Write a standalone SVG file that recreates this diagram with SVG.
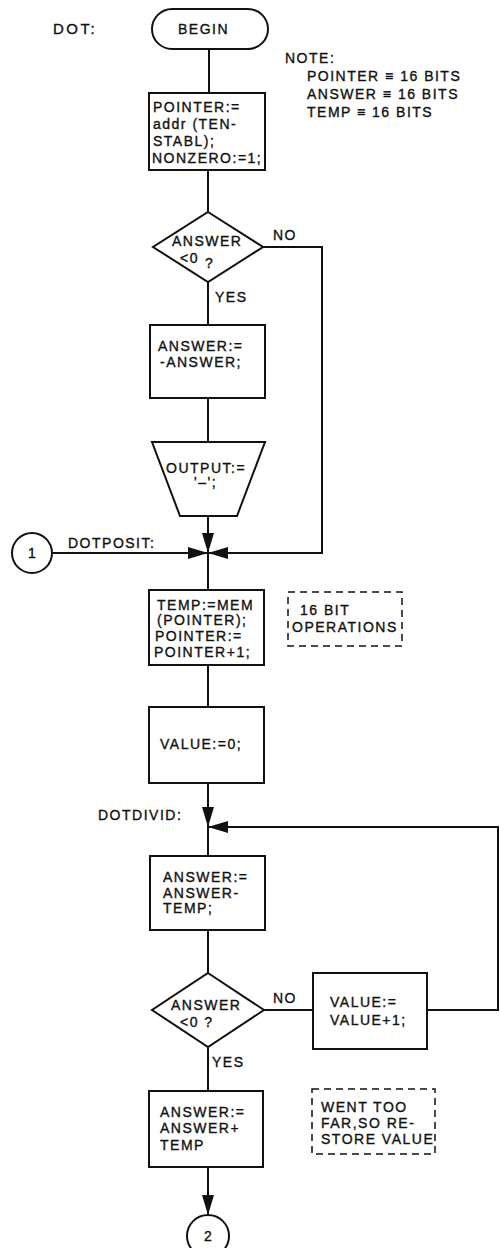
<svg xmlns="http://www.w3.org/2000/svg" width="500" height="1248" viewBox="0 0 500 1248">
<style>
text{font-family:"Liberation Sans",Arial,sans-serif;font-size:14px;letter-spacing:1.5px;fill:#111;stroke:#111;stroke-width:0.35}
.s{fill:#fff;stroke:#111;stroke-width:2}
.d{fill:none;stroke:#111;stroke-width:1.5;stroke-dasharray:7,5}
.c{fill:none;stroke:#111;stroke-width:2}
.m{text-anchor:middle;letter-spacing:0}
</style>
<defs>
<marker id="ah" viewBox="0 0 20 12" refX="20" refY="6" markerWidth="20" markerHeight="12" markerUnits="userSpaceOnUse" orient="auto">
<path d="M0,0 L20,6 L0,12 Z" fill="#111"/>
</marker>
</defs>
<rect width="500" height="1248" fill="#fff"/>
<g id="connectors">
<path class="c" d="M209,49 V93"/>
<path class="c" d="M208,170 V212"/>
<path class="c" d="M208,282 V325"/>
<path class="c" d="M208,398 V442"/>
<path class="c" d="M208,516 V553" marker-end="url(#ah)"/>
<path class="c" d="M263,247 H322 V553 H208" marker-end="url(#ah)"/>
<path class="c" d="M52,553 H208" marker-end="url(#ah)"/>
<path class="c" d="M208,553 V590"/>
<path class="c" d="M208,665 V707"/>
<path class="c" d="M208,783 V827" marker-end="url(#ah)"/>
<path class="c" d="M427,1010 H498 V827 H208" marker-end="url(#ah)"/>
<path class="c" d="M208,827 V856"/>
<path class="c" d="M208,930 V973"/>
<path class="c" d="M264,1010 H313"/>
<path class="c" d="M208,1047 V1091"/>
<path class="c" d="M208,1167 V1215" marker-end="url(#ah)"/>
<text x="273" y="240">NO</text>
<text x="215" y="302">YES</text>
<text x="68" y="548">DOTPOSIT:</text>
<text x="98" y="820">DOTDIVID:</text>
<text x="273" y="1003">NO</text>
<text x="212" y="1067">YES</text>
</g>
<g id="label-dot"><text x="53" y="34" style="font-size:15px;letter-spacing:2.5px">DOT:</text></g>
<g id="note">
<text x="285" y="63">NOTE:</text>
<text x="307" y="81">POINTER ≡ 16 BITS</text>
<text x="307" y="99">ANSWER ≡ 16 BITS</text>
<text x="307" y="117">TEMP ≡ 16 BITS</text>
</g>
<g id="begin">
<rect class="s" x="152" y="9" width="116" height="40" rx="20"/>
<text x="178" y="34">BEGIN</text>
</g>
<g id="init">
<rect class="s" x="149" y="93" width="116" height="77"/>
<text x="153" y="112">POINTER:=</text>
<text x="153" y="129">addr (TEN-</text>
<text x="153" y="146">STABL);</text>
<text x="152" y="163">NONZERO:=1;</text>
</g>
<g id="dec1">
<polygon class="s" points="208,212 263,247 208,282 153,247"/>
<text x="172" y="246">ANSWER</text>
<text x="180" y="263">&lt;0</text>
<text x="205" y="268">?</text>
</g>
<g id="negate">
<rect class="s" x="150" y="325" width="115" height="73"/>
<text x="158" y="351">ANSWER:=</text>
<text x="160" y="367">-ANSWER;</text>
</g>
<g id="output">
<polygon class="s" points="152,442 265,442 237,516 180,516"/>
<text x="166" y="473">OUTPUT:=</text>
<text x="194" y="487">'–';</text>
</g>
<g id="conn1">
<circle class="s" cx="32" cy="553" r="20"/>
<text class="m" x="32" y="558">1</text>
</g>
<g id="temp">
<rect class="s" x="149" y="590" width="115" height="75"/>
<text x="157" y="610">TEMP:=MEM</text>
<text x="157" y="625">(POINTER);</text>
<text x="155" y="641">POINTER:=</text>
<text x="154" y="657">POINTER+1;</text>
</g>
<g id="note16">
<rect class="d" x="288" y="592" width="114" height="54"/>
<text x="300" y="615">16 BIT</text>
<text x="292" y="632">OPERATIONS</text>
</g>
<g id="value0">
<rect class="s" x="149" y="707" width="115" height="76"/>
<text x="160" y="749">VALUE:=0;</text>
</g>
<g id="sub">
<rect class="s" x="150" y="856" width="115" height="74"/>
<text x="163" y="882">ANSWER:=</text>
<text x="163" y="898">ANSWER-</text>
<text x="163" y="913">TEMP;</text>
</g>
<g id="dec2">
<polygon class="s" points="208,973 264,1010 208,1047 152,1010"/>
<text x="171" y="1010">ANSWER</text>
<text x="180" y="1027">&lt;0 ?</text>
</g>
<g id="inc">
<rect class="s" x="313" y="973" width="114" height="76"/>
<text x="330" y="1007">VALUE:=</text>
<text x="330" y="1025">VALUE+1;</text>
</g>
<g id="add">
<rect class="s" x="149" y="1091" width="114" height="76"/>
<text x="160" y="1117">ANSWER:=</text>
<text x="160" y="1133">ANSWER+</text>
<text x="160" y="1150">TEMP</text>
</g>
<g id="note-far">
<rect class="d" x="312" y="1089" width="123" height="65"/>
<text x="321" y="1112">WENT TOO</text>
<text x="321" y="1128">FAR,SO RE-</text>
<text x="321" y="1144">STORE VALUE</text>
</g>
<g id="conn2">
<circle class="s" cx="208" cy="1236" r="21"/>
<text class="m" x="208" y="1241">2</text>
</g>
</svg>
